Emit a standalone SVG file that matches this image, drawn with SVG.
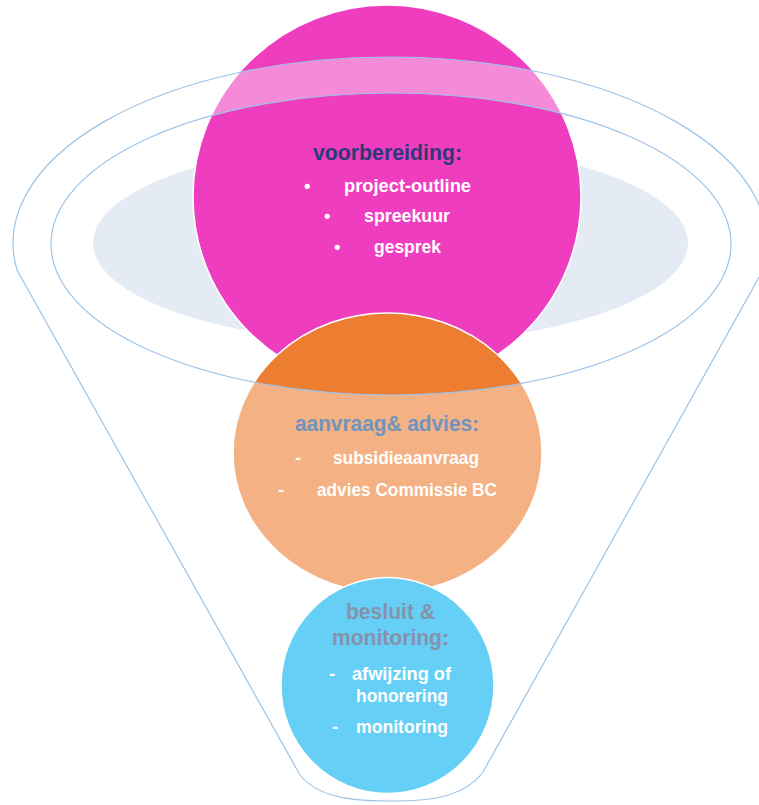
<svg xmlns="http://www.w3.org/2000/svg" width="759" height="805" viewBox="0 0 759 805">
  <style>
    .veil { fill: #ffffff; fill-opacity: 0.4; }
    .edge { fill: none; stroke: #9DC3E6; stroke-width: 1.2; }
    .rim { stroke: #ffffff; stroke-width: 1.5; }
    text { font-family: "Liberation Sans", Arial, sans-serif; font-weight: bold; }
    .ttl { font-size: 21.5px; }
    .itm { font-size: 18.5px; fill: #ffffff; }
  </style>
  <defs>
    <clipPath id="body">
      <path clip-rule="evenodd" d="M17,270 A377,186 0 1 1 763,270 L483,772 C462,800 422,801 391,801 C360,801 320,800 300,775 Z M51,244 A340,151 0 1 0 731,244 A340,151 0 1 0 51,244 Z"/>
    </clipPath>
  </defs>
  <rect width="759" height="805" fill="#ffffff"/>

  <g id="funnel-opening">
    <ellipse cx="390.5" cy="243" rx="297.5" ry="100" fill="#E4EBF5"/>
  </g>

  <g id="node-voorbereiding">
    <ellipse class="rim" cx="387" cy="197" rx="194" ry="192" fill="#EF3DBF"/>
    <ellipse class="veil" cx="387" cy="197" rx="194" ry="192" clip-path="url(#body)"/>
    <text class="ttl" x="313" y="160" textLength="149" lengthAdjust="spacingAndGlyphs" fill="#2C3B78">voorbereiding:</text>
    <text class="itm" x="304" y="192">•</text>
    <text class="itm" x="344" y="192" font-size="19" textLength="127" lengthAdjust="spacingAndGlyphs">project-outline</text>
    <text class="itm" x="324" y="222">•</text>
    <text class="itm" x="364" y="222" font-size="19" textLength="86" lengthAdjust="spacingAndGlyphs">spreekuur</text>
    <text class="itm" x="334" y="253">•</text>
    <text class="itm" x="374" y="253" font-size="19" textLength="67" lengthAdjust="spacingAndGlyphs">gesprek</text>
  </g>

  <g id="node-aanvraag">
    <ellipse class="rim" cx="387.5" cy="453" rx="154.5" ry="140" fill="#ED7D31"/>
    <ellipse class="veil" cx="387.5" cy="453" rx="154.5" ry="140" clip-path="url(#body)"/>
    <text class="ttl" x="295" y="431" textLength="184" lengthAdjust="spacingAndGlyphs" fill="#7094BE">aanvraag&amp; advies:</text>
    <text class="itm" x="295" y="464">-</text>
    <text class="itm" x="333" y="464" textLength="146" lengthAdjust="spacingAndGlyphs">subsidieaanvraag</text>
    <text class="itm" x="278" y="496">-</text>
    <text class="itm" x="317" y="496" textLength="180" lengthAdjust="spacingAndGlyphs">advies Commissie BC</text>
  </g>

  <g id="node-besluit">
    <ellipse class="rim" cx="387.5" cy="685.5" rx="106.5" ry="108" fill="#00B0F0"/>
    <ellipse class="veil" cx="387.5" cy="685.5" rx="106.5" ry="108" clip-path="url(#body)"/>
    <text class="ttl" x="346" y="619" font-size="22" textLength="89" lengthAdjust="spacingAndGlyphs" fill="#8492AA">besluit &amp;</text>
    <text class="ttl" x="332" y="645" font-size="22" textLength="117" lengthAdjust="spacingAndGlyphs" fill="#8492AA">monitoring:</text>
    <text class="itm" x="329" y="680">-</text>
    <text class="itm" x="352" y="680" textLength="99" lengthAdjust="spacingAndGlyphs">afwijzing of</text>
    <text class="itm" x="356" y="702" textLength="92" lengthAdjust="spacingAndGlyphs">honorering</text>
    <text class="itm" x="332" y="733">-</text>
    <text class="itm" x="356" y="733" textLength="92" lengthAdjust="spacingAndGlyphs">monitoring</text>
  </g>

  <g id="funnel-outline">
    <path class="edge" d="M17,270 A377,186 0 1 1 763,270 L483,772 C462,800 422,801 391,801 C360,801 320,800 300,775 Z"/>
    <ellipse class="edge" cx="391" cy="244" rx="340" ry="151"/>
  </g>
</svg>
